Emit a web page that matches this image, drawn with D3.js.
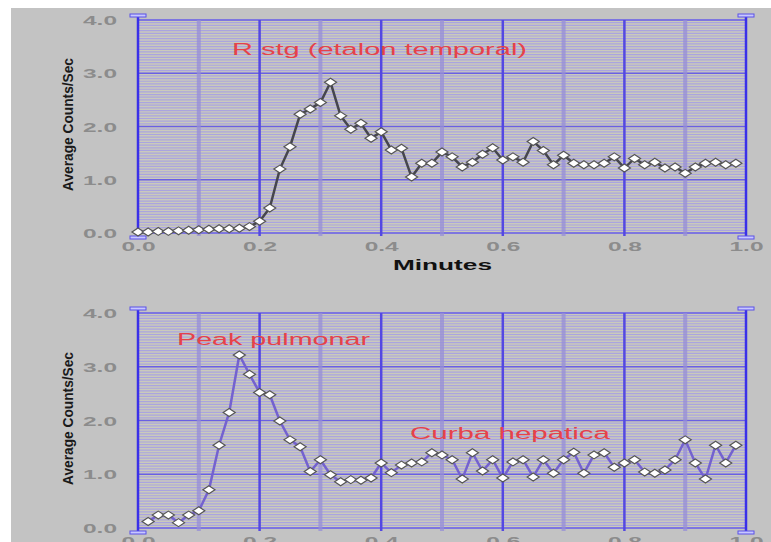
<!DOCTYPE html>
<html>
<head>
<meta charset="utf-8">
<script src="https://cdn.jsdelivr.net/npm/d3@7"></script>
<style>
  body { margin: 0; background: #ffffff; }
  svg { display: block; }
  text { font-family: "Liberation Sans", Arial, sans-serif; }
</style>
</head>
<body>
<div id="view"></div>
<script>
var width = 771, height = 542;

// 1 sample per second, x axis in minutes
var sampleStep = 1 / 60;
var xTicks = [0.0, 0.2, 0.4, 0.6, 0.8, 1.0];
var yTicks = [0.0, 1.0, 2.0, 3.0, 4.0];

// upper curve: R stg (etalon temporal), samples 0..59
var topStart = 0;
var topValues = [
  0.02, 0.02, 0.03, 0.03, 0.04, 0.05, 0.06, 0.07, 0.08, 0.08,
  0.09, 0.12, 0.22, 0.47, 1.20, 1.62, 2.23, 2.33, 2.45, 2.83,
  2.20, 1.95, 2.06, 1.78, 1.90, 1.56, 1.59, 1.05, 1.31, 1.31,
  1.52, 1.43, 1.24, 1.33, 1.48, 1.60, 1.37, 1.43, 1.33, 1.72,
  1.55, 1.28, 1.46, 1.31, 1.28, 1.28, 1.31, 1.43, 1.22, 1.40,
  1.28, 1.33, 1.22, 1.24, 1.12, 1.24, 1.31, 1.33, 1.28, 1.31
];

// lower curve: pulmonary peak + hepatic curve, samples 1..59
var bottomStart = 1;
var bottomValues = [
  0.12, 0.24, 0.24, 0.10, 0.24, 0.32, 0.71, 1.54, 2.15, 3.22,
  2.86, 2.52, 2.48, 1.99, 1.64, 1.51, 1.05, 1.27, 0.99, 0.86,
  0.90, 0.89, 0.93, 1.21, 1.03, 1.17, 1.21, 1.23, 1.40, 1.36,
  1.27, 0.91, 1.40, 1.06, 1.27, 0.93, 1.23, 1.27, 0.95, 1.27,
  1.02, 1.27, 1.41, 1.02, 1.36, 1.40, 1.13, 1.21, 1.27, 1.04,
  1.02, 1.08, 1.27, 1.64, 1.21, 0.91, 1.54, 1.21, 1.54
];

var yTitle = "Average Counts/Sec";
var xTitle = "Minutes";

// layout of the two panels
var panels = [
  { y0: 20, y1: 233, values: topValues, start: topStart, line: "#46464e", xTitle: true,
    notes: [ { text: "R stg (etalon temporal)", x: 232, y: 55, len: 295 } ] },
  { y0: 313, y1: 528, values: bottomValues, start: bottomStart, line: "#7462cf", xTitle: false,
    notes: [ { text: "Peak pulmonar", x: 177, y: 345, len: 193 },
             { text: "Curba hepatica", x: 410, y: 439, len: 200 } ] }
];

var svg = d3.select("#view").append("svg")
  .attr("width", width)
  .attr("height", height);

// grey window background (white strip left / top)
svg.append("rect")
  .attr("x", 11).attr("y", 8)
  .attr("width", width - 11).attr("height", height - 8)
  .attr("fill", "#c3c3c3");

var x = d3.scaleLinear().domain([0, 1]).range([138, 746]);

panels.forEach(function(p) {
  var y = d3.scaleLinear().domain([0, 4]).range([p.y1, p.y0]);
  var g = svg.append("g");

  // plot background
  g.append("rect")
    .attr("x", x(0)).attr("y", y(4))
    .attr("width", x(1) - x(0)).attr("height", y(0) - y(4))
    .attr("fill", "#cacabb");

  // dense horizontal minor lines
  g.selectAll(".hminor")
    .data(d3.range(0, 4.001, 0.05)).enter()
    .append("line")
    .attr("x1", x(0)).attr("x2", x(1))
    .attr("y1", function(d) { return y(d); })
    .attr("y2", function(d) { return y(d); })
    .style("stroke", "#aaa4e0")
    .style("stroke-width", 1.2);

  // horizontal major lines
  g.selectAll(".hmajor")
    .data(yTicks).enter()
    .append("line")
    .attr("x1", x(0)).attr("x2", x(1))
    .attr("y1", function(d) { return y(d); })
    .attr("y2", function(d) { return y(d); })
    .style("stroke", "#6a60e4")
    .style("stroke-width", 1.5);

  // vertical minor lines (0.1, 0.3 ...)
  g.selectAll(".vminor")
    .data([0.1, 0.3, 0.5, 0.7, 0.9]).enter()
    .append("line")
    .attr("x1", function(d) { return x(d); })
    .attr("x2", function(d) { return x(d); })
    .attr("y1", y(4)).attr("y2", y(0) + 3)
    .style("stroke", "#968ed8")
    .style("stroke-width", 4)
    .style("opacity", 0.75);

  // vertical major lines (0.2, 0.4 ...)
  g.selectAll(".vmajor")
    .data([0.2, 0.4, 0.6, 0.8]).enter()
    .append("line")
    .attr("x1", function(d) { return x(d); })
    .attr("x2", function(d) { return x(d); })
    .attr("y1", y(4)).attr("y2", y(0) + 3)
    .style("stroke", "#5448e2")
    .style("stroke-width", 2.5);

  // left and right axes with end caps
  [0, 1].forEach(function(v) {
    g.append("line")
      .attr("x1", x(v)).attr("x2", x(v))
      .attr("y1", y(4) - 4).attr("y2", y(0) + 4)
      .style("stroke", "#3a30e8")
      .style("stroke-width", 2.5);
    [y(4) - 5, y(0) + 4].forEach(function(cy) {
      g.append("rect")
        .attr("x", x(v) - 8).attr("y", cy - 1)
        .attr("width", 16).attr("height", 3)
        .attr("fill", "#c8c8ff")
        .style("stroke", "#5a50e8")
        .style("stroke-width", 1);
    });
  });

  // y axis labels
  var yAxis = d3.axisLeft(y).tickValues(yTicks).tickFormat(d3.format(".1f")).tickSize(0).tickPadding(0);
  var ya = g.append("g").attr("transform", "translate(117,0)").call(yAxis);
  ya.select(".domain").remove();
  ya.selectAll("text")
    .attr("dy", "0.35em")
    .attr("textLength", 34)
    .attr("lengthAdjust", "spacingAndGlyphs")
    .style("font-size", "13px")
    .style("font-weight", "bold")
    .style("fill", "#8c8c8c");

  // x axis labels
  var xAxis = d3.axisBottom(x).tickValues(xTicks).tickFormat(d3.format(".1f")).tickSize(0).tickPadding(0);
  var xa = g.append("g").attr("transform", "translate(0," + (y(0) + 9) + ")").call(xAxis);
  xa.select(".domain").remove();
  xa.selectAll("text")
    .attr("dy", "0.71em")
    .attr("textLength", 34)
    .attr("lengthAdjust", "spacingAndGlyphs")
    .style("font-size", "13px")
    .style("font-weight", "bold")
    .style("fill", "#8c8c8c");

  // y title
  var ym = (y(0) + y(4)) / 2 - 2;
  g.append("text")
    .attr("transform", "translate(73," + ym + ") rotate(-90)")
    .attr("text-anchor", "middle")
    .attr("textLength", 133)
    .attr("lengthAdjust", "spacingAndGlyphs")
    .style("font-size", "15px")
    .style("font-weight", "bold")
    .style("fill", "#1a1a1a")
    .text(yTitle);

  if (p.xTitle) {
    g.append("text")
      .attr("x", 393).attr("y", 270)
      .attr("textLength", 99)
      .attr("lengthAdjust", "spacingAndGlyphs")
      .style("font-size", "14px")
      .style("font-weight", "bold")
      .style("fill", "#111111")
      .text(xTitle);
  }

  // annotations
  g.selectAll(".note")
    .data(p.notes).enter()
    .append("text")
    .attr("x", function(d) { return d.x; })
    .attr("y", function(d) { return d.y; })
    .attr("textLength", function(d) { return d.len; })
    .attr("lengthAdjust", "spacingAndGlyphs")
    .style("font-size", "16px")
    .style("fill", "#e6424a")
    .text(function(d) { return d.text; });

  // series line
  var pts = p.values.map(function(v, i) { return { t: (p.start + i) * sampleStep, v: v }; });
  var line = d3.line()
    .x(function(d) { return x(d.t); })
    .y(function(d) { return y(d.v); });
  g.append("path")
    .datum(pts)
    .attr("d", line)
    .style("fill", "none")
    .style("stroke", p.line)
    .style("stroke-width", 2.5);

  // white diamond markers
  g.selectAll(".pt")
    .data(pts).enter()
    .append("path")
    .attr("d", "M-6,0L0,-4L6,0L0,4Z")
    .attr("transform", function(d) { return "translate(" + x(d.t) + "," + y(d.v) + ")"; })
    .style("fill", "#ffffff")
    .style("stroke", "#555555")
    .style("stroke-width", 1.2);
});
</script>
</body>
</html>
